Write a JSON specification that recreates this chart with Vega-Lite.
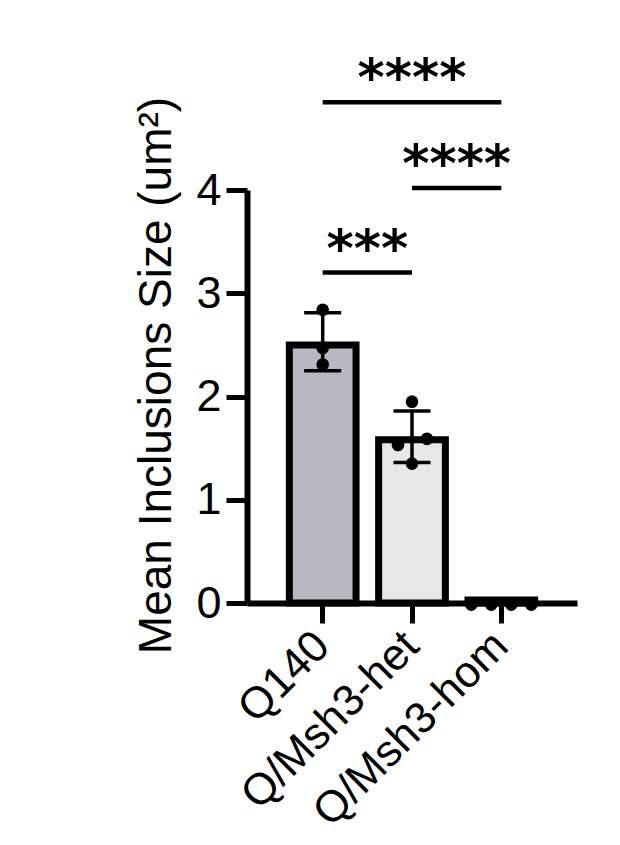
{
  "$schema": "https://vega.github.io/schema/vega-lite/v6.json",
  "width": 330,
  "height": 413,
  "autosize": {"type": "none"},
  "padding": {"left": 247, "top": 190, "right": 43, "bottom": 242},
  "background": "white",
  "config": {
    "view": {"stroke": null},
    "font": "Liberation Sans",
    "axis": {
      "domainColor": "black",
      "domainWidth": 6,
      "tickColor": "black",
      "tickWidth": 5,
      "labelColor": "black",
      "titleColor": "black",
      "grid": false,
      "labelFont": "Liberation Sans",
      "titleFont": "Liberation Sans"
    }
  },
  "datasets": {
    "bars": [
      {"group": "Q140", "mean": 2.5, "lo": 2.25, "hi": 2.81},
      {"group": "Q/Msh3-het", "mean": 1.58, "lo": 1.36, "hi": 1.86},
      {"group": "Q/Msh3-hom", "mean": 0.03, "lo": 0.02, "hi": 0.04}
    ],
    "points": [
      {"group": "Q140", "value": 2.84, "jitter": 0},
      {"group": "Q140", "value": 2.47, "jitter": 0},
      {"group": "Q140", "value": 2.31, "jitter": 0},
      {"group": "Q/Msh3-het", "value": 1.95, "jitter": 0},
      {"group": "Q/Msh3-het", "value": 1.53, "jitter": -0.157},
      {"group": "Q/Msh3-het", "value": 1.59, "jitter": 0.168},
      {"group": "Q/Msh3-het", "value": 1.35, "jitter": 0},
      {"group": "Q/Msh3-hom", "value": -0.015, "jitter": -0.336},
      {"group": "Q/Msh3-hom", "value": -0.015, "jitter": -0.112},
      {"group": "Q/Msh3-hom", "value": -0.015, "jitter": 0.112},
      {"group": "Q/Msh3-hom", "value": -0.015, "jitter": 0.336}
    ],
    "sig": [
      {"g1": "Q140", "g2": "Q/Msh3-het", "mid": "Q140", "shift": 0.5, "line": 3.2, "label": "***"},
      {"g1": "Q/Msh3-het", "g2": "Q/Msh3-hom", "mid": "Q/Msh3-het", "shift": 0.5, "line": 4.02, "label": "****"},
      {"g1": "Q140", "g2": "Q/Msh3-hom", "mid": "Q/Msh3-het", "shift": 0, "line": 4.85, "label": "****"}
    ]
  },
  "resolve": {"scale": {"xOffset": "independent"}},
  "layer": [
    {
      "data": {"name": "bars"},
      "mark": {"type": "bar", "stroke": "black", "strokeWidth": 7, "strokeJoin": "miter"},
      "encoding": {
        "x": {
          "field": "group",
          "type": "nominal",
          "scale": {"domain": ["Q140", "Q/Msh3-het", "Q/Msh3-hom"], "paddingInner": 0.253, "paddingOuter": 0.474},
          "axis": {
            "title": null,
            "labelAngle": -45,
            "labelFontSize": 44,
            "labelBaseline": "middle",
            "labelAlign": "right",
            "labelPadding": 16,
            "labelLimit": 500,
            "tickSize": 20
          }
        },
        "y": {
          "field": "mean",
          "type": "quantitative",
          "scale": {"domain": [0, 4], "nice": false, "zero": true},
          "axis": {
            "title": "Mean Inclusions Size (um²)",
            "values": [0, 1, 2, 3, 4],
            "format": "d",
            "tickSize": 21,
            "labelFontSize": 45,
            "labelPadding": 5,
            "titleFontSize": 46,
            "titleFontWeight": "normal",
            "titlePadding": 15,
            "titleY": 185
          }
        },
        "color": {
          "field": "group",
          "type": "nominal",
          "scale": {"domain": ["Q140", "Q/Msh3-het", "Q/Msh3-hom"], "range": ["#b9b8c2", "#e8e8e8", "#d0d0d0"]},
          "legend": null
        }
      }
    },
    {
      "data": {"name": "bars"},
      "mark": {"type": "rule", "color": "black", "strokeWidth": 3.5},
      "encoding": {
        "x": {"field": "group", "type": "nominal"},
        "y": {"field": "lo", "type": "quantitative"},
        "y2": {"field": "hi"}
      }
    },
    {
      "data": {"name": "bars"},
      "mark": {"type": "tick", "color": "black", "opacity": 1, "size": 37, "thickness": 3.5},
      "encoding": {
        "x": {"field": "group", "type": "nominal"},
        "y": {"field": "lo", "type": "quantitative"}
      }
    },
    {
      "data": {"name": "bars"},
      "mark": {"type": "tick", "color": "black", "opacity": 1, "size": 37, "thickness": 3.5},
      "encoding": {
        "x": {"field": "group", "type": "nominal"},
        "y": {"field": "hi", "type": "quantitative"}
      }
    },
    {
      "data": {"name": "points"},
      "mark": {"type": "circle", "color": "black", "opacity": 1, "size": 160},
      "encoding": {
        "x": {"field": "group", "type": "nominal"},
        "xOffset": {"field": "jitter", "type": "quantitative", "scale": {"domain": [-1, 1], "range": [-55.95, 122.65]}},
        "y": {"field": "value", "type": "quantitative"}
      }
    },
    {
      "data": {"name": "sig"},
      "mark": {"type": "rule", "color": "black", "strokeWidth": 4.5},
      "encoding": {
        "x": {"field": "g1", "type": "nominal"},
        "x2": {"field": "g2"},
        "y": {"field": "line", "type": "quantitative"}
      }
    },
    {
      "data": {"name": "sig"},
      "mark": {"type": "text", "color": "black", "font": "DejaVu Sans", "fontWeight": "bold", "fontSize": 52, "baseline": "alphabetic", "align": "center", "dy": -7},
      "encoding": {
        "x": {"field": "mid", "type": "nominal"},
        "xOffset": {"field": "shift", "type": "quantitative", "scale": {"domain": [-1, 1], "range": [-55.95, 122.65]}},
        "y": {"field": "line", "type": "quantitative"},
        "text": {"field": "label"}
      }
    }
  ]
}
